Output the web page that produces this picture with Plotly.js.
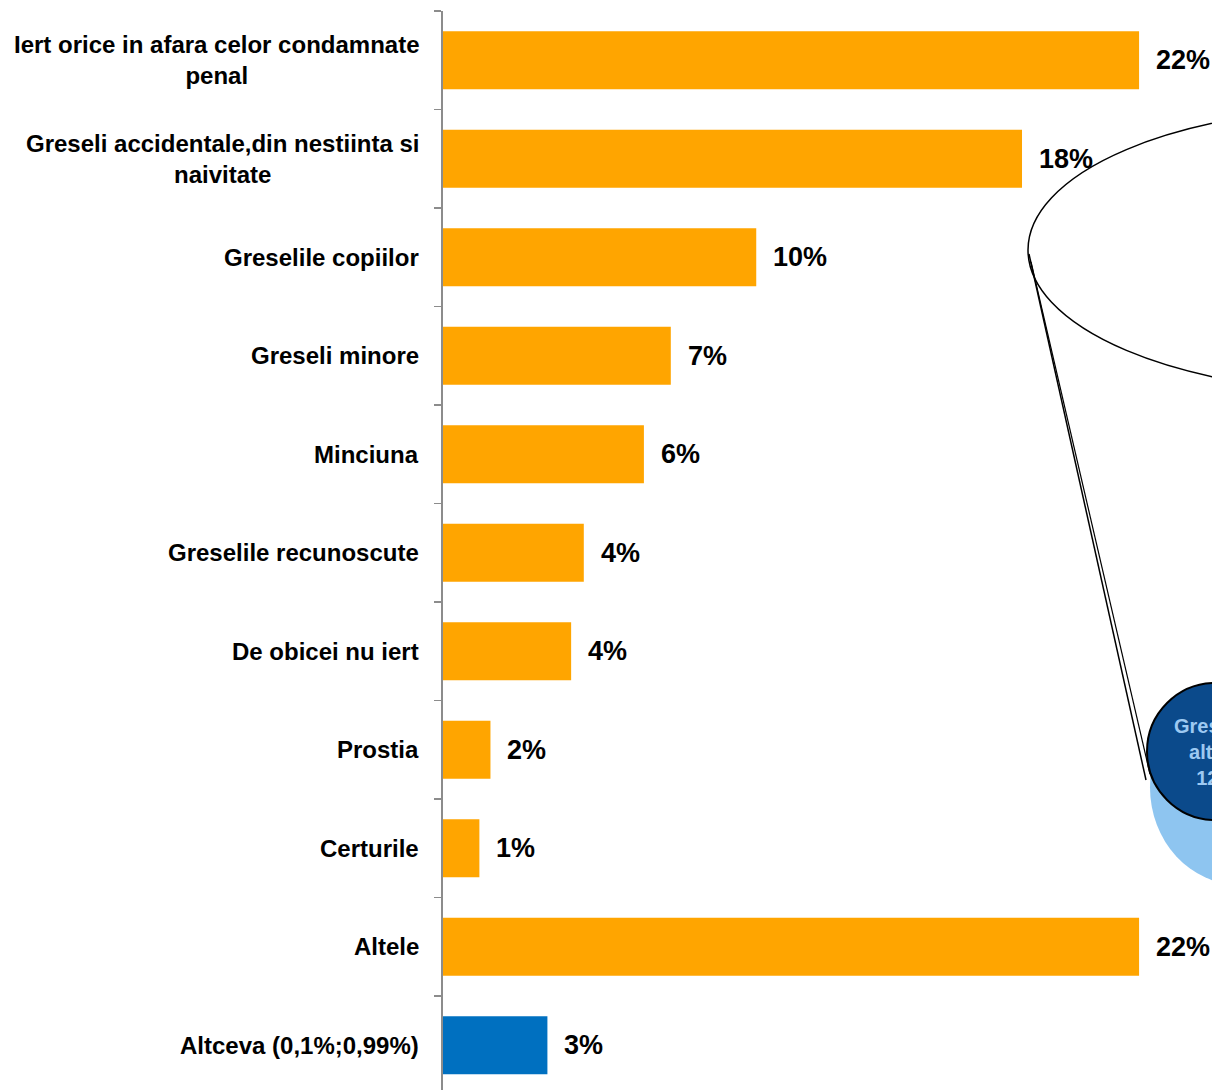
<!DOCTYPE html>
<html>
<head>
<meta charset="utf-8">
<script src="https://cdn.plot.ly/plotly-3.0.1.min.js"></script>
<style>html,body{margin:0;padding:0;background:#fff;overflow:hidden;}</style>
</head>
<body>
<div id="chart" style="width:1212px;height:1090px;"></div>
<script>
const categories = [
  "Iert orice in afara celor condamnate<br>penal",
  "Greseli accidentale,din nestiinta si<br>naivitate",
  "Greselile copiilor",
  "Greseli minore",
  "Minciuna",
  "Greselile recunoscute",
  "De obicei nu iert",
  "Prostia",
  "Certurile",
  "Altele",
  "Altceva (0,1%;0,99%)"
];
const values = [22.0, 18.3, 9.9, 7.2, 6.35, 4.45, 4.05, 1.5, 1.15, 22.0, 3.3];
const valueLabels = ["22%", "18%", "10%", "7%", "6%", "4%", "4%", "2%", "1%", "22%", "3%"];
const barColors = ["#FFA500", "#FFA500", "#FFA500", "#FFA500", "#FFA500", "#FFA500", "#FFA500", "#FFA500", "#FFA500", "#FFA500", "#0070C0"];
const calloutText = "Greşelile<br>altora<br>12%";

const W = 1212, H = 1090;
const L = 443, R = 0, T = 11, B = 0;
const pw = W - L - R, ph = H - T - B;
const px = x => (x - L) / pw;
const py = y => (H - B - y) / ph;

const yIdx = categories.map((c, i) => i);

const trace = {
  type: 'bar',
  orientation: 'h',
  x: values,
  y: yIdx,
  marker: {color: barColors},
  width: 0.59,
  hoverinfo: 'none'
};

const font = "Liberation Sans, Arial, sans-serif";
const annotations = [];
categories.forEach((c, i) => {
  annotations.push({
    xref: 'paper', yref: 'y', x: 0, y: i,
    xanchor: 'right', yanchor: 'middle', xshift: -22,
    text: '<b>' + c + '</b>', showarrow: false, align: 'center',
    font: {family: font, size: 24, color: '#000'}
  });
  annotations.push({
    xref: 'x', yref: 'y', x: values[i], y: i,
    xanchor: 'left', yanchor: 'middle', xshift: 15,
    text: '<b>' + valueLabels[i] + '</b>', showarrow: false,
    font: {family: font, size: 27, color: '#000'}
  });
});
annotations.push({
  xref: 'paper', yref: 'paper', x: px(1216), y: py(752),
  xanchor: 'center', yanchor: 'middle',
  text: '<b>' + calloutText + '</b>', showarrow: false, align: 'center',
  font: {family: font, size: 20, color: '#9DC9F2'}
});

const shapes = [
  {type: 'circle', xref: 'paper', yref: 'paper', layer: 'above',
   x0: px(1150), x1: px(1330), y0: py(690), y1: py(885),
   fillcolor: '#8EC5F0', line: {width: 0}},
  {type: 'circle', xref: 'paper', yref: 'paper', layer: 'above',
   x0: px(1147), x1: px(1284), y0: py(683), y1: py(820),
   fillcolor: '#0B4A8B', line: {color: '#000', width: 2}},
  {type: 'circle', xref: 'paper', yref: 'paper', layer: 'above',
   x0: px(1028), x1: px(1700), y0: py(108), y1: py(392),
   fillcolor: 'rgba(0,0,0,0)', line: {color: '#000', width: 1.5}},
  {type: 'line', xref: 'paper', yref: 'paper', layer: 'above',
   x0: px(1029), y0: py(254), x1: px(1146), y1: py(780),
   line: {color: '#000', width: 1.5}},
  {type: 'line', xref: 'paper', yref: 'paper', layer: 'above',
   x0: px(1031), y0: py(262), x1: px(1150), y1: py(774),
   line: {color: '#000', width: 1.2}}
];

const layout = {
  width: W, height: H,
  margin: {l: L, r: R, t: T, b: B, pad: 0},
  paper_bgcolor: '#fff', plot_bgcolor: '#fff',
  showlegend: false,
  xaxis: {range: [0, pw / 31.64], visible: false, fixedrange: true},
  yaxis: {
    range: [10.454, -0.5],
    tickmode: 'array',
    tickvals: yIdx.map(i => i - 0.5),
    ticktext: yIdx.map(() => ''),
    showticklabels: false,
    ticks: 'outside', ticklen: 7, tickwidth: 1.5, tickcolor: '#8C8C8C',
    showline: true, linecolor: '#8C8C8C', linewidth: 2,
    showgrid: false, zeroline: false, fixedrange: true
  },
  annotations: annotations,
  shapes: shapes
};

Plotly.newPlot('chart', [trace], layout, {displayModeBar: false, staticPlot: true});
</script>
</body>
</html>
